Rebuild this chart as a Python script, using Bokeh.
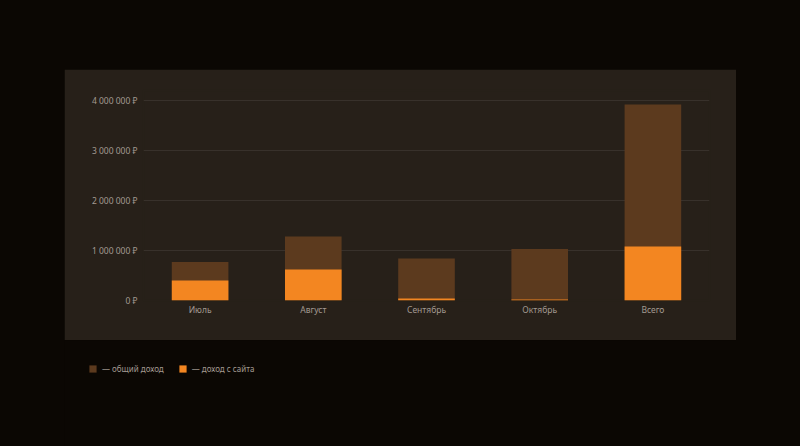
from bokeh.plotting import figure
from bokeh.layouts import column, row
from bokeh.models import (ColumnDataSource, FixedTicker, CustomJSTickFormatter,
                          Legend, LegendItem, Range1d)
from bokeh.embed import file_html
from bokeh.resources import INLINE

categories = ["Июль", "Август", "Сентябрь", "Октябрь", "Всего"]
total_income = [770000, 1280000, 840000, 1030000, 3920000]
site_income = [400000, 620000, 40000, 20000, 1080000]
y_ticks = [0, 1000000, 2000000, 3000000, 4000000]
legend_labels = ["— общий доход", "— доход с сайта"]

OUTER = "#0b0703"
PANEL = "#272019"
GRID = "#38312b"
TEXT = "#a39a91"
C_TOTAL = "#5c3a1e"
C_SITE = "#f38621"
FONT = "Noto Sans"

src = ColumnDataSource(dict(cat=categories, total=total_income, site=site_income))

# main chart panel (672 x 271)
p_main = figure(width=672, height=271, x_range=categories, y_range=Range1d(0, 4200000),
                output_backend="svg", toolbar_location=None,
                min_border_left=79, min_border_right=27, min_border_top=21, min_border_bottom=40,
                margin=(69, 64, 0, 64))
p_main.border_fill_color = PANEL
p_main.background_fill_color = PANEL
p_main.outline_line_color = PANEL
p_main.outline_line_width = 2

p_main.vbar(x="cat", top="total", width=0.5, source=src, fill_color=C_TOTAL, line_color=None)
p_main.vbar(x="cat", top="site", width=0.5, source=src, fill_color=C_SITE, line_color=None)

p_main.xgrid.grid_line_color = None
p_main.ygrid.grid_line_color = GRID
p_main.ygrid.grid_line_width = 1
p_main.yaxis.ticker = FixedTicker(ticks=y_ticks)
p_main.yaxis.formatter = CustomJSTickFormatter(code="""
return String(tick).replace(/\\B(?=(\\d{3})+(?!\\d))/g, ' ') + ' ₽';
""")
for ax in (p_main.xaxis[0], p_main.yaxis[0]):
    ax.axis_line_color = None
    ax.major_tick_line_color = None
    ax.minor_tick_line_color = None
    ax.major_tick_out = 0
    ax.major_tick_in = 0
    ax.minor_tick_out = 0
    ax.major_label_text_color = TEXT
    ax.major_label_text_font = FONT
    ax.major_label_text_font_size = "8.5px"
p_main.yaxis.major_label_standoff = 6
p_main.xaxis.major_label_standoff = 3

# legend strip below the panel (672 x 106)
p_leg = figure(width=672, height=106, x_range=Range1d(0, 1), y_range=Range1d(0, 1),
               x_axis_type=None, y_axis_type=None,
               output_backend="svg", toolbar_location=None,
               min_border=0, margin=(0, 64, 0, 64))
p_leg.border_fill_color = OUTER
p_leg.background_fill_color = OUTER
p_leg.outline_line_color = None
p_leg.grid.visible = False
# legend-only renderers: their single bar lies outside the visible range
hidden = ColumnDataSource(dict(x=[5], top=[5], bottom=[4]))
l1 = p_leg.vbar(x="x", top="top", bottom="bottom", width=0.1, source=hidden,
                fill_color=C_TOTAL, line_color=None)
l2 = p_leg.vbar(x="x", top="top", bottom="bottom", width=0.1, source=hidden,
                fill_color=C_SITE, line_color=None)

legend = Legend(items=[LegendItem(label=legend_labels[0], renderers=[l1]),
                       LegendItem(label=legend_labels[1], renderers=[l2])],
                orientation="horizontal", location=(24, 72),
                background_fill_alpha=0, border_line_color=None,
                label_text_color=TEXT, label_text_font=FONT, label_text_font_size="8px",
                glyph_width=9, glyph_height=9, label_height=9, label_width=10,
                spacing=14, padding=0, margin=0, label_standoff=5)
p_leg.add_layout(legend)

layout = column(p_main, row(p_leg), width=800, height=446, spacing=0,
                styles={"background-color": OUTER})

open("out.html", "w").write(file_html(layout, INLINE))
